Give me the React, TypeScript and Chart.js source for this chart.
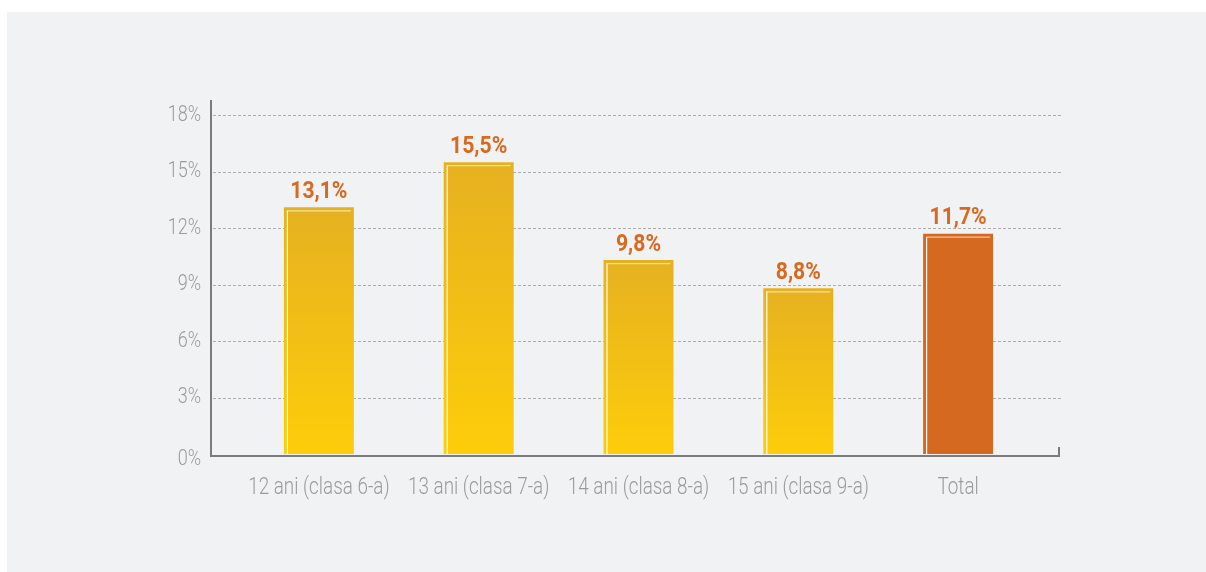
import React, { useEffect, useRef } from "react";
import { Chart, registerables } from "chart.js";
Chart.register(...registerables);

const categories = ["12 ani (clasa 6-a)", "13 ani (clasa 7-a)", "14 ani (clasa 8-a)", "15 ani (clasa 9-a)", "Total"];
const barValues = [13.1, 15.5, 10.3, 8.8, 11.7];
const valueLabels = ["13,1%", "15,5%", "9,8%", "8,8%", "11,7%"];
const yMax = 18.8;
const yStep = 3;
const tickSuffix = "%";

const GOLD_TOP = "#e6b120";
const GOLD_BOTTOM = "#fdcd0a";
const TOTAL_COLOR = "#d4691f";
const LABEL_COLOR = "#d8691f";
const TICK_COLOR = "#9b9b9b";
const AXIS_COLOR = "#7b7b7b";
const GRID_COLOR = "#adadad";

function drawCondensed(ctx: CanvasRenderingContext2D, text: string, x: number, y: number, font: string, color: string, sx: number, align: "center" | "right", baseline: CanvasTextBaseline) {
  ctx.save();
  ctx.font = font;
  ctx.fillStyle = color;
  ctx.textBaseline = baseline;
  ctx.textAlign = align;
  ctx.translate(x, y);
  ctx.scale(sx, 1);
  ctx.fillText(text, 0, 0);
  ctx.restore();
}

const decorPlugin = {
  id: "decor",
  beforeDatasetsDraw(chart: any) {
    const ctx = chart.ctx as CanvasRenderingContext2D;
    const ys = chart.scales.y;
    const ca = chart.chartArea;
    ctx.save();
    ctx.strokeStyle = GRID_COLOR;
    ctx.lineWidth = 1;
    ctx.setLineDash([3, 2]);
    ys.ticks.forEach((t: any) => {
      if (t.value <= 0) return;
      const py = Math.round(ys.getPixelForValue(t.value)) + 0.5;
      ctx.beginPath();
      ctx.moveTo(ca.left - 26, py);
      ctx.lineTo(ca.right + 23, py);
      ctx.stroke();
    });
    ctx.restore();
  },
  afterDatasetsDraw(chart: any) {
    const ctx = chart.ctx as CanvasRenderingContext2D;
    const ys = chart.scales.y;
    const xs = chart.scales.x;
    const ca = chart.chartArea;
    const meta = chart.getDatasetMeta(0);
    meta.data.forEach((el: any) => {
      const left = el.x - el.width / 2;
      const right = el.x + el.width / 2;
      ctx.save();
      ctx.lineWidth = 1.2;
      ctx.strokeStyle = "rgba(255,255,255,0.95)";
      ctx.beginPath();
      ctx.moveTo(left + 3.5, el.y + 3);
      ctx.lineTo(left + 3.5, el.base);
      ctx.stroke();
      ctx.strokeStyle = "rgba(255,255,255,0.6)";
      ctx.beginPath();
      ctx.moveTo(left + 4, el.y + 3.5);
      ctx.lineTo(right - 3, el.y + 3.5);
      ctx.stroke();
      ctx.restore();
    });
    const y0 = ys.getPixelForValue(0);
    const yTop = ys.getPixelForValue(yMax);
    const axL = ca.left - 28;
    const axR = ca.right + 21;
    ctx.save();
    ctx.strokeStyle = AXIS_COLOR;
    ctx.lineWidth = 2;
    ctx.beginPath();
    ctx.moveTo(axL, yTop);
    ctx.lineTo(axL, y0 + 2);
    ctx.lineTo(axR, y0 + 2);
    ctx.lineTo(axR, y0 - 7);
    ctx.stroke();
    ctx.restore();
    meta.data.forEach((el: any, i: number) => {
      drawCondensed(ctx, valueLabels[i], el.x, el.y - 9.5, "bold 24px Roboto", LABEL_COLOR, 0.88, "center", "alphabetic");
    });
    ys.ticks.forEach((t: any) => {
      const py = ys.getPixelForValue(t.value) + (t.value === 0 ? 5 : 0);
      drawCondensed(ctx, t.value + tickSuffix, ca.left - 38, py, "300 22px Roboto", TICK_COLOR, 0.82, "right", "middle");
    });
    categories.forEach((c, i) => {
      drawCondensed(ctx, c, xs.getPixelForTick(i), ca.bottom + 34, "300 23px Roboto", TICK_COLOR, 0.82, "center", "middle");
    });
  },
};

export default function App() {
  const ref = useRef<HTMLCanvasElement>(null);
  useEffect(() => {
    if (!ref.current) return;
    const chart = new Chart(ref.current, {
      type: "bar",
      data: {
        labels: categories,
        datasets: [
          {
            data: barValues,
            backgroundColor: (c: any) => {
              if (c.dataIndex === categories.length - 1) return TOTAL_COLOR;
              const ch = c.chart;
              const ca = ch.chartArea;
              if (!ca || !ch.scales.y) return GOLD_BOTTOM;
              const top = ch.scales.y.getPixelForValue(barValues[c.dataIndex]);
              const g = ch.ctx.createLinearGradient(0, top, 0, ca.bottom);
              g.addColorStop(0, GOLD_TOP);
              g.addColorStop(1, GOLD_BOTTOM);
              return g;
            },
            borderWidth: 0,
            barPercentage: 0.438,
            categoryPercentage: 1,
          },
        ],
      },
      options: {
        responsive: false,
        devicePixelRatio: 1,
        animation: false,
        layout: { padding: { left: 239, right: 168, top: 100, bottom: 118 } },
        plugins: { legend: { display: false }, tooltip: { enabled: false } },
        scales: {
          x: {
            grid: { display: false },
            border: { display: false },
            ticks: { display: false },
            afterFit: (s: any) => { s.height = 0; },
          },
          y: {
            min: 0,
            max: yMax,
            grid: { display: false },
            border: { display: false },
            ticks: { display: false, stepSize: yStep, includeBounds: false },
            afterFit: (s: any) => { s.width = 0; },
          },
        },
      },
      plugins: [decorPlugin],
    });
    return () => chart.destroy();
  }, []);
  return (
    <div style={{ position: "fixed", left: 0, top: 0, width: 1206, height: 572, background: "#ffffff" }}>
      <div style={{ position: "absolute", left: 7, top: 12, right: 0, bottom: 0, background: "#f1f2f4" }} />
      <canvas ref={ref} width={1206} height={572} style={{ position: "absolute", left: 0, top: 0, display: "block" }} />
    </div>
  );
}
